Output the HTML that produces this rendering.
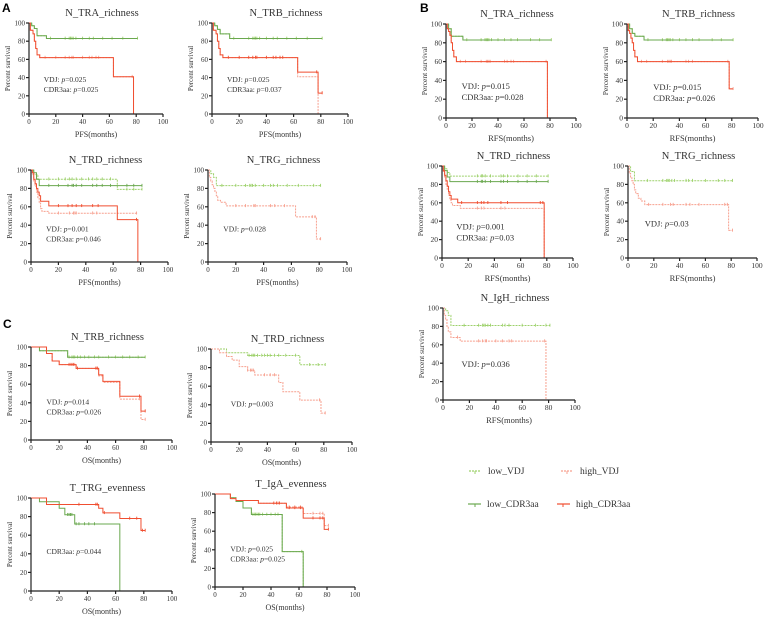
<!DOCTYPE html>
<html><head><meta charset="utf-8"><style>
html,body{margin:0;padding:0;background:#fff}
svg{display:block}
text{font-family:"Liberation Serif",serif;fill:#333}
</style></head><body>
<svg id="fig" width="779" height="618" viewBox="0 0 779 618" xmlns="http://www.w3.org/2000/svg">
<text x="2" y="12" style="font-family:'Liberation Sans',sans-serif;font-weight:bold;font-size:12px;fill:#000">A</text>
<text x="420" y="12" style="font-family:'Liberation Sans',sans-serif;font-weight:bold;font-size:12px;fill:#000">B</text>
<text x="3" y="328" style="font-family:'Liberation Sans',sans-serif;font-weight:bold;font-size:12px;fill:#000">C</text>
<g>
 <g><line x1="469" y1="471" x2="481" y2="471" stroke="#9dd16b" stroke-dasharray="2,1" stroke-width="1.2"/><line x1="475" y1="471" x2="475" y2="474" stroke="#9dd16b"/><text x="488" y="474" font-size="9.5">low_VDJ</text></g>
 <g><line x1="561" y1="471" x2="573" y2="471" stroke="#f7a08f" stroke-dasharray="2,1" stroke-width="1.2"/><line x1="567" y1="471" x2="567" y2="474" stroke="#f7a08f"/><text x="580" y="474" font-size="9.5">high_VDJ</text></g>
 <g><line x1="468" y1="504" x2="481" y2="504" stroke="#6aa84f" stroke-width="1.2"/><line x1="475" y1="504" x2="475" y2="507" stroke="#6aa84f"/><text x="487" y="507" font-size="9.5">low_CDR3aa</text></g>
 <g><line x1="557" y1="504" x2="570" y2="504" stroke="#f04e30" stroke-width="1.2"/><line x1="563" y1="504" x2="563" y2="507" stroke="#f04e30"/><text x="576" y="507" font-size="9.5">high_CDR3aa</text></g>
</g>
</svg>
<script>
const xTicks=[0,20,40,60,80,100];
const yTicks=[0,20,40,60,80,100];
// A TRA
const aTRA_lowT=[2,4,6,13], aTRA_lowS=[97,94,86,83], aTRA_lowE=81, aTRA_lowC=[16,27,30,31,32,33,35,40,45,48,55,62,70,81];
const aTRA_highT=[1,3,4,5,6,8,63,78], aTRA_highS=[92,88,80,72,65,62,41,0], aTRA_highE=78, aTRA_highC=[12,20,27,30,32,33,40,45,47,50,52,77];
// A TRB
const aTRB_lowT=[2,4,6,13], aTRB_lowS=[97,93,88,83], aTRB_lowE=81, aTRB_lowC=[16,27,30,31,32,33,35,40,45,48,55,62,70,81];
const aTRB_highT=[1,3,4,5,6,8,63,78], aTRB_highS=[92,88,80,72,65,62,46,23], aTRB_highE=81, aTRB_highC=[12,20,27,30,32,33,40,45,47,50,52,77,81];
const aTRB_high2T=[1,3,4,5,6,8,63,78], aTRB_high2S=[92,88,80,72,65,62,41,0], aTRB_high2E=78;
// A TRD
const aTRD_lowVT=[2,5,63], aTRD_lowVS=[95,90,79], aTRD_lowVE=81, aTRD_lowVC=[13,20,25,28,30,33,37,42,45,48,52,58,70,75,81];
const aTRD_lowCT=[2,4,6], aTRD_lowCS=[97,90,83], aTRD_lowCE=81, aTRD_lowCC=[13,20,27,30,31,33,37,45,48,52,58,70,75,81];
const aTRD_highCT=[1,2,3,4,5,6,7,13,63,78], aTRD_highCS=[97,90,85,80,76,72,66,61,46,0], aTRD_highCE=78, aTRD_highCC=[20,27,30,33,37,45,49,77];
const aTRD_highVT=[1,2,3,4,5,6,7,8,13], aTRD_highVS=[95,88,82,76,70,64,58,55,53], aTRD_highVE=78, aTRD_highVC=[20,28,31,32,33,45,48,77];
// A TRG
const aTRG_lowT=[2,4,6], aTRG_lowS=[96,92,83], aTRG_lowE=81, aTRG_lowC=[10,20,27,30,31,32,34,40,45,47,50,57,65,76,81];
const aTRG_highT=[1,2,3,4,5,6,7,9,13,63,78], aTRG_highS=[92,88,84,80,76,72,67,65,61,49,25], aTRG_highE=81, aTRG_highC=[20,27,33,34,45,48,55,75,77,81];
// B TRA
const bTRA_lowT=[2,4,13], bTRA_lowS=[95,87,83], bTRA_lowE=81, bTRA_lowC=[16,27,30,31,32,33,35,40,45,50,55,65,72,81];
const bTRA_highT=[1,2,3,4,5,6,8,78], bTRA_highS=[95,92,88,80,72,65,60,0], bTRA_highE=78, bTRA_highC=[11,15,27,31,32,33,34,45,47,50,52,77];
// B TRB
const bTRB_lowT=[2,4,6,13], bTRB_lowS=[95,90,87,83], bTRB_lowE=81, bTRB_lowC=[16,27,30,31,32,33,35,40,45,50,55,65,72,81];
const bTRB_highT=[1,2,3,4,5,6,8,78], bTRB_highS=[93,90,85,80,72,65,60,31], bTRB_highE=81, bTRB_highC=[11,15,27,31,32,33,34,45,47,50,77,81];
// B TRD
const bTRD_lowVT=[2,4,6], bTRD_lowVS=[97,93,89], bTRD_lowVE=81, bTRD_lowVC=[27,30,31,33,37,45,47,50,58,65,72,81];
const bTRD_lowCT=[2,4,6], bTRD_lowCS=[95,88,83], bTRD_lowCE=81, bTRD_lowCC=[27,30,31,33,37,45,47,50,58,65,72,81];
const bTRD_highCT=[1,2,3,4,5,6,7,12,78], bTRD_highCS=[95,90,84,78,72,68,64,60,0], bTRD_highCE=78, bTRD_highCC=[15,27,30,32,35,45,50,75,77];
const bTRD_highVT=[1,2,3,4,5,6,7,8,14,78], bTRD_highVS=[94,88,80,74,68,63,60,57,54,0], bTRD_highVE=78, bTRD_highVC=[27,30,32,45,48];
// B TRG
const bTRG_lowT=[2,5], bTRG_lowS=[94,84], bTRG_lowE=81, bTRG_lowC=[15,27,30,31,32,34,36,45,47,50,60,70,75,81];
const bTRG_highT=[1,2,3,4,5,6,8,10,13,78], bTRG_highS=[92,88,84,80,74,70,65,62,58,30], bTRG_highE=81, bTRG_highC=[16,27,33,35,45,48,55,75,77,81];
// B IgH
const bIGH_lowT=[2,4,6], bIGH_lowS=[97,92,81], bIGH_lowE=81, bIGH_lowC=[16,27,30,31,32,34,36,45,47,50,60,70,78,81];
const bIGH_highT=[1,2,3,4,6,13,78], bIGH_highS=[92,88,80,74,68,64,0], bIGH_highE=78, bIGH_highC=[11,27,30,32,33,40,45,50,52,77];
// C TRB
const cTRB_lowT=[6,26], cTRB_lowS=[96,89], cTRB_lowE=81, cTRB_lowC=[27,29,30,31,33,35,38,41,45,48,55,60,65,70,76,81];
const cTRB_highCT=[11,15,20,32,48,51,63,78], cTRB_highCS=[93,85,81,77,70,63,47,31], cTRB_highCE=81, cTRB_highCC=[27,29,30,33,46,47,77,81];
const cTRB_highVT=[11,15,20,32,48,51,63,78], cTRB_highVS=[93,85,81,77,69,62,44,22], cTRB_highVE=81, cTRB_highVC=[28,31,47,77,81];
// C TRD
const cTRD_lowT=[11,26,63], cTRD_lowS=[96,93,83], cTRD_lowE=81, cTRD_lowC=[27,29,30,31,33,36,38,40,42,45,48,53,60,70,76,81];
const cTRD_highT=[6,11,15,20,26,31,48,51,63,78], cTRD_highS=[96,92,88,81,77,72,64,54,45,31], cTRD_highE=81, cTRD_highC=[26,28,29,30,38,42,45,77,81];
// C TRG
const cTRG_lowT=[6,20,24,31,63], cTRG_lowS=[96,89,82,72,0], cTRG_lowE=63, cTRG_lowC=[26,27,28,29,32,34,38,41,45];
const cTRG_highT=[11,48,51,63,78], cTRG_highS=[93,89,84,78,65], cTRG_highE=81, cTRG_highC=[34,46,47,52,70,75,79,81];
// C IgA
const cIGA_lowT=[11,15,20,26,48,63], cIGA_lowS=[96,92,85,78,38,0], cIGA_lowE=63, cIGA_lowC=[27,28,29,30,31,32,34,37,40,43,45,62];
const cIGA_highCT=[11,15,31,51,63,78], cIGA_highCS=[95,93,90,85,74,62], cIGA_highCE=81, cIGA_highCC=[42,44,46,53,57,61,70,75,77,81];
const cIGA_highVT=[11,15,31,51,63,78], cIGA_highVS=[95,93,90,86,79,66], cIGA_highVE=81, cIGA_highVC=[45,53,57,61,70,75,77,81];

const LG='#9dd16b', DG='#6aa84f', LR='#f7a08f', DR='#f04e30';
const NS='http://www.w3.org/2000/svg';
const fig=document.getElementById('fig');
function mk(tag,attrs,parent){const e=document.createElementNS(NS,tag);for(const k in attrs)e.setAttribute(k,attrs[k]);parent.appendChild(e);return e;}

function panel(p){
  const g=mk('g',{},fig);
  
  
  // y1 = pixel of 100 (top), y0 = pixel of 0 (bottom)
  const sx=v=>p.x0+(p.x1-p.x0)*v/100, sy=v=>p.y0-(p.y0-p.y1)*v/100;
  const fs=p.fs||7;
  const t=mk('text',{x:(p.x0+p.x1)/2+6,y:p.y1-7,'text-anchor':'middle','font-size':p.tfs||10.5},g);t.textContent=p.title;
  
  
  p.series.forEach(s=>{
    let d='M'+sx(0)+','+sy(100);
    s.T.forEach((tt,i)=>{d+=' H'+sx(tt)+' V'+sy(s.S[i]);});
    d+=' H'+sx(s.E);
    const path=mk('path',{d:d,fill:'none',stroke:s.c,'stroke-width':1,'stroke-dasharray':s.dash?'2,1':'none'},g);
    
    
    (s.C||[]).forEach(ct=>{
      let v=100; s.T.forEach((tt,i)=>{if(tt<=ct)v=s.S[i];});
      mk('line',{x1:sx(ct),x2:sx(ct),y1:sy(v)-1.8,y2:sy(v)+1.2,stroke:s.c,'stroke-width':0.9},g);
    });
  });
  const ax=mk('g',{stroke:'#222','stroke-width':1.2},g);
  
  
  mk('line',{x1:p.x0,y1:p.y1,x2:p.x0,y2:p.y0},ax);
  mk('line',{x1:p.x0,y1:p.y0,x2:p.x1,y2:p.y0},ax);
  xTicks.forEach(v=>{mk('line',{x1:sx(v),x2:sx(v),y1:p.y0,y2:p.y0+3},ax);
    const l=mk('text',{x:sx(v),y:p.y0+10,'text-anchor':'middle','font-size':fs},g);l.textContent=v;});
  yTicks.forEach(v=>{mk('line',{x1:p.x0-3,x2:p.x0,y1:sy(v),y2:sy(v)},ax);
    const l=mk('text',{x:p.x0-4,y:sy(v)+2.5,'text-anchor':'end','font-size':fs},g);l.textContent=v;});
  const xl=mk('text',{x:(p.x0+p.x1)/2,y:p.y0+23,'text-anchor':'middle','font-size':fs+1},g);xl.textContent=p.xlab;
  
  
  const cy=(p.y0+p.y1)/2, cx=p.x0-19;
  const yl=mk('text',{x:cx,y:cy,'text-anchor':'middle','font-size':fs,transform:'rotate(-90 '+cx+' '+cy+')'},g);yl.textContent='Percent survival';
  
  
  p.ann.forEach((a,i)=>{
    const at=mk('text',{x:sx(p.ax),y:sy(p.ay)+i*(p.afs||7.5)*1.3,'font-size':p.afs||7.5},g);
    at.innerHTML=a[0]+': <tspan font-style="italic">p</tspan>='+a[1];
    
    
  });
}
const S=(T,S_,E,C,c,dash)=>({T:T,S:S_,E:E,C:C,c:c,dash:dash});
panel({name:'panel-a-tra',x0:29,x1:163,y1:23,y0:114,title:'N_TRA_richness',xlab:'PFS(months)',ax:11,ay:35,ann:[['VDJ','0.025'],['CDR3aa','0.025']],
 series:[S(aTRA_lowT,aTRA_lowS,aTRA_lowE,aTRA_lowC,LG,1),S(aTRA_lowT,aTRA_lowS,aTRA_lowE,[],DG,0),S(aTRA_highT,aTRA_highS,aTRA_highE,aTRA_highC,LR,1),S(aTRA_highT,aTRA_highS,aTRA_highE,[],DR,0)]});
panel({name:'panel-a-trb',x0:212,x1:348,y1:23,y0:114,title:'N_TRB_richness',xlab:'PFS(months)',ax:11,ay:35,ann:[['VDJ','0.025'],['CDR3aa','0.037']],
 series:[S(aTRB_lowT,aTRB_lowS,aTRB_lowE,aTRB_lowC,LG,1),S(aTRB_lowT,aTRB_lowS,aTRB_lowE,[],DG,0),S(aTRB_high2T,aTRB_high2S,aTRB_high2E,[],LR,1),S(aTRB_highT,aTRB_highS,aTRB_highE,aTRB_highC,DR,0)]});
panel({name:'panel-a-trd',x0:31,x1:168,y1:170,y0:262,title:'N_TRD_richness',xlab:'PFS(months)',ax:11,ay:33,ann:[['VDJ','0.001'],['CDR3aa','0.046']],
 series:[S(aTRD_lowVT,aTRD_lowVS,aTRD_lowVE,aTRD_lowVC,LG,1),S(aTRD_lowCT,aTRD_lowCS,aTRD_lowCE,aTRD_lowCC,DG,0),S(aTRD_highVT,aTRD_highVS,aTRD_highVE,aTRD_highVC,LR,1),S(aTRD_highCT,aTRD_highCS,aTRD_highCE,aTRD_highCC,DR,0)]});
panel({name:'panel-a-trg',x0:208,x1:347,y1:170,y0:262,title:'N_TRG_richness',xlab:'PFS(months)',ax:11,ay:33,ann:[['VDJ','0.028']],
 series:[S(aTRG_lowT,aTRG_lowS,aTRG_lowE,aTRG_lowC,LG,1),S(aTRG_highT,aTRG_highS,aTRG_highE,aTRG_highC,LR,1)]});
panel({name:'panel-b-tra',x0:446,x1:576,y1:24,y0:118,title:'N_TRA_richness',xlab:'RFS(months)',fs:7.5,afs:8.5,ax:12,ay:31,ann:[['VDJ','0.015'],['CDR3aa','0.028']],
 series:[S(bTRA_lowT,bTRA_lowS,bTRA_lowE,bTRA_lowC,LG,1),S(bTRA_lowT,bTRA_lowS,bTRA_lowE,[],DG,0),S(bTRA_highT,bTRA_highS,bTRA_highE,bTRA_highC,LR,1),S(bTRA_highT,bTRA_highS,bTRA_highE,[],DR,0)]});
panel({name:'panel-b-trb',x0:627,x1:758,y1:24,y0:118,title:'N_TRB_richness',xlab:'RFS(months)',fs:7.5,afs:8.5,ax:20,ay:30,ann:[['VDJ','0.015'],['CDR3aa','0.026']],
 series:[S(bTRB_lowT,bTRB_lowS,bTRB_lowE,bTRB_lowC,LG,1),S(bTRB_lowT,bTRB_lowS,bTRB_lowE,[],DG,0),S(bTRB_highT,bTRB_highS,bTRB_highE,bTRB_highC,LR,1),S(bTRB_highT,bTRB_highS,bTRB_highE,[],DR,0)]});
panel({name:'panel-b-trd',x0:442,x1:573,y1:166,y0:258,title:'N_TRD_richness',xlab:'RFS(months)',fs:7.5,afs:8.5,ax:11,ay:31,ann:[['VDJ','0.001'],['CDR3aa','0.03']],
 series:[S(bTRD_lowVT,bTRD_lowVS,bTRD_lowVE,bTRD_lowVC,LG,1),S(bTRD_lowCT,bTRD_lowCS,bTRD_lowCE,bTRD_lowCC,DG,0),S(bTRD_highVT,bTRD_highVS,bTRD_highVE,bTRD_highVC,LR,1),S(bTRD_highCT,bTRD_highCS,bTRD_highCE,bTRD_highCC,DR,0)]});
panel({name:'panel-b-trg',x0:628,x1:757,y1:166,y0:258,title:'N_TRG_richness',xlab:'RFS(months)',fs:7.5,afs:8.5,ax:13,ay:34,ann:[['VDJ','0.03']],
 series:[S(bTRG_lowT,bTRG_lowS,bTRG_lowE,bTRG_lowC,LG,1),S(bTRG_highT,bTRG_highS,bTRG_highE,bTRG_highC,LR,1)]});
panel({name:'panel-b-igh',x0:443,x1:575,y1:308,y0:400,title:'N_IgH_richness',xlab:'RFS(months)',fs:7.5,afs:8.5,ax:14,ay:36,ann:[['VDJ','0.036']],
 series:[S(bIGH_lowT,bIGH_lowS,bIGH_lowE,bIGH_lowC,LG,1),S(bIGH_highT,bIGH_highS,bIGH_highE,bIGH_highC,LR,1)]});
panel({name:'panel-c-trb',x0:31,x1:172,y1:347,y0:440,title:'N_TRB_richness',xlab:'OS(months)',ax:11,ay:38,ann:[['VDJ','0.014'],['CDR3aa','0.026']],
 series:[S(cTRB_lowT,cTRB_lowS,cTRB_lowE,cTRB_lowC,LG,1),S(cTRB_lowT,cTRB_lowS,cTRB_lowE,[],DG,0),S(cTRB_highVT,cTRB_highVS,cTRB_highVE,cTRB_highVC,LR,1),S(cTRB_highCT,cTRB_highCS,cTRB_highCE,cTRB_highCC,DR,0)]});
panel({name:'panel-c-trd',x0:211,x1:352,y1:349,y0:442,title:'N_TRD_richness',xlab:'OS(months)',ax:14,ay:38,ann:[['VDJ','0.003']],
 series:[S(cTRD_lowT,cTRD_lowS,cTRD_lowE,cTRD_lowC,LG,1),S(cTRD_highT,cTRD_highS,cTRD_highE,cTRD_highC,LR,1)]});
panel({name:'panel-c-trg',x0:31,x1:172,y1:498,y0:591,title:'T_TRG_evenness',xlab:'OS(months)',ax:11,ay:40,ann:[['CDR3aa','0.044']],
 series:[S(cTRG_lowT,cTRG_lowS,cTRG_lowE,cTRG_lowC,DG,0),S(cTRG_highT,cTRG_highS,cTRG_highE,cTRG_highC,DR,0)]});
panel({name:'panel-c-iga',x0:215,x1:355,y1:494,y0:587,title:'T_IgA_evenness',xlab:'OS(months)',ax:11,ay:38,ann:[['VDJ','0.025'],['CDR3aa','0.025']],
 series:[S(cIGA_lowT,cIGA_lowS,cIGA_lowE,cIGA_lowC,LG,1),S(cIGA_lowT,cIGA_lowS,cIGA_lowE,[],DG,0),S(cIGA_highVT,cIGA_highVS,cIGA_highVE,cIGA_highVC,LR,1),S(cIGA_highCT,cIGA_highCS,cIGA_highCE,cIGA_highCC,DR,0)]});
</script>
</body></html>
